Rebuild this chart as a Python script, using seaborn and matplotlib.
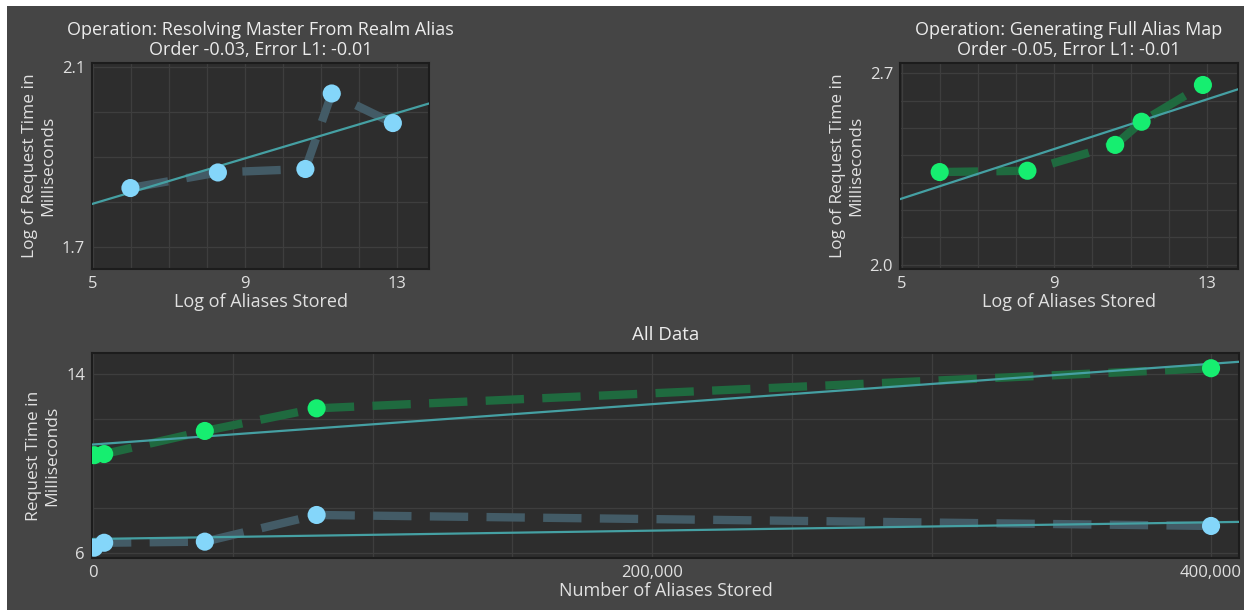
import numpy as np
import pandas as pd
import matplotlib.pyplot as plt
from matplotlib.patches import Rectangle
import seaborn as sns

# Values
aliases = [400, 4000, 40000, 80000, 400000]
resolve_ms = [6.24, 6.46, 6.51, 7.70, 7.21]      # Resolving Master From Realm Alias
alias_map_ms = [10.37, 10.42, 11.45, 12.46, 14.25]  # Generating Full Alias Map

df = pd.DataFrame({"aliases": aliases, "resolve": resolve_ms, "alias_map": alias_map_ms})
df["log_aliases"] = np.log(df["aliases"])
df["log_resolve"] = np.log(df["resolve"])
df["log_alias_map"] = np.log(df["alias_map"])

# Colours
FIG_BG = "#454545"
AX_BG = "#2d2d2d"
GRID = "#3e3e3e"
TEXT = "#e0e0e0"
TREND = "#45a0a3"
BLUE, BLUE_DASH = "#84d6fa", "#435b66"
GREEN, GREEN_DASH = "#16ee70", "#1f6a3f"

sns.set_theme(style="dark", rc={
    "axes.facecolor": AX_BG,
    "figure.facecolor": FIG_BG,
    "axes.edgecolor": "#1c1c1c",
    "axes.linewidth": 1.5,
    "grid.color": GRID,
    "grid.linewidth": 0.9,
    "text.color": TEXT,
    "axes.labelcolor": TEXT,
    "xtick.color": "#9a9a9a",
    "ytick.color": "#9a9a9a",
    "xtick.labelcolor": TEXT,
    "ytick.labelcolor": TEXT,
})
plt.rcParams["font.family"] = ["Open Sans", "DejaVu Sans"]
plt.rcParams["font.weight"] = "medium"

fig = plt.figure(figsize=(12.44, 6.10), dpi=100)
W, H = 1244, 610

# white strips at top and left of the screenshot
fig.patches.append(Rectangle((0, 1 - 6 / H), 1, 6 / H, transform=fig.transFigure,
                             facecolor="white", edgecolor="none", zorder=-1))
fig.patches.append(Rectangle((0, 0), 7 / W, 1, transform=fig.transFigure,
                             facecolor="white", edgecolor="none", zorder=-1))


def px_axes(x0, y0, x1, y1):
    return fig.add_axes([x0 / W, 1 - y1 / H, (x1 - x0) / W, (y1 - y0) / H])


def draw_series(ax, x, y, dot, dash):
    sns.lineplot(data=df, x=x, y=y, ax=ax, color=dash, lw=6,
                 linestyle=(0, (4.6, 2.2)), zorder=2)
    sns.regplot(data=df, x=x, y=y, ax=ax, scatter=False, ci=None, truncate=False,
                line_kws=dict(color=TREND, lw=1.6, zorder=3))
    sns.scatterplot(data=df, x=x, y=y, ax=ax, color=dot, s=170,
                    edgecolor="none", zorder=4)


def finish(ax, xlim, ylim, xt, xl, yt, yl, xlabel, ylabel, title, fs=13):
    ax.set_xlim(*xlim)
    ax.set_ylim(*ylim)
    ax.set_xticks(xt)
    ax.set_xticklabels(xl, fontsize=12)
    ax.set_yticks(yt)
    ax.set_yticklabels(yl, fontsize=12)
    ax.tick_params(length=3, width=1, pad=2)
    ax.grid(True)
    ax.set_xlabel(xlabel, fontsize=fs, labelpad=1)
    ax.set_ylabel(ylabel, fontsize=fs - 0.5, labelpad=4)
    ax.set_title(title, fontsize=fs, pad=6, color="#ececec", linespacing=1.15)


# --- top left: resolving master ---
ax1 = px_axes(92, 63, 429, 269)
ax1.set_xlim(4.98, 13.85)
draw_series(ax1, "log_aliases", "log_resolve", BLUE, BLUE_DASH)
finish(ax1, (4.98, 13.85), (1.651, 2.109),
       range(5, 14), ["5", "", "", "", "9", "", "", "", "13"],
       [1.7, 1.8, 1.9, 2.0, 2.1], ["1.7", "", "", "", "2.1"],
       "Log of Aliases Stored", "Log of Request Time in\nMilliseconds",
       "Operation: Resolving Master From Realm Alias\nOrder -0.03, Error L1: -0.01")

# --- top right: full alias map ---
ax2 = px_axes(900, 63, 1238, 269)
ax2.set_xlim(4.95, 13.82)
draw_series(ax2, "log_aliases", "log_alias_map", GREEN, GREEN_DASH)
finish(ax2, (4.95, 13.82), (1.985, 2.737),
       range(5, 14), ["5", "", "", "", "9", "", "", "", "13"],
       [2.0, 2.1, 2.2, 2.3, 2.4, 2.5, 2.6, 2.7], ["2.0", "", "", "", "", "", "", "2.7"],
       "Log of Aliases Stored", "Log of Request Time in\nMilliseconds",
       "Operation: Generating Full Alias Map\nOrder -0.05, Error L1: -0.01")

# --- bottom: all data ---
ax3 = px_axes(92, 353, 1239, 558)
ax3.set_xlim(-360, 410000)
draw_series(ax3, "aliases", "resolve", BLUE, BLUE_DASH)
draw_series(ax3, "aliases", "alias_map", GREEN, GREEN_DASH)
finish(ax3, (-360, 410000), (5.78, 14.93),
       range(0, 400001, 50000), ["0", "", "", "", "200,000", "", "", "", "400,000"],
       [6, 8, 10, 12, 14], ["6", "", "", "", "14"],
       "Number of Aliases Stored", "Request Time in\nMilliseconds",
       "All Data")
ax3.set_title("All Data", fontsize=13.5, pad=9, color="#ececec")

plt.savefig("out.png", dpi=100, facecolor=fig.get_facecolor())
